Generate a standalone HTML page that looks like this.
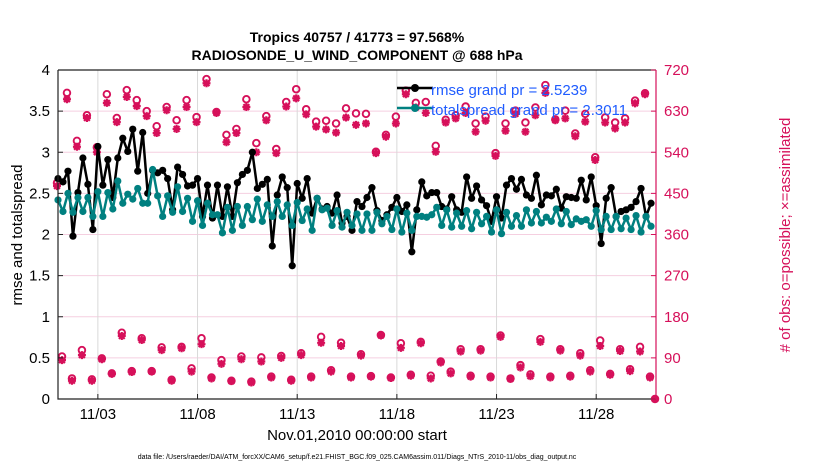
<!DOCTYPE html>
<html><head><meta charset="utf-8"><style>
body{margin:0;background:#fff;}
svg{display:block;font-family:"Liberation Sans",sans-serif;}
</style></head><body>
<svg id="chart" width="830" height="470" viewBox="0 0 830 470" xmlns="http://www.w3.org/2000/svg">
<rect width="830" height="470" fill="#fff"/>
<g id="grid"></g>
<g id="marks"></g>
<g id="axes"></g>
<text x="357" y="42" text-anchor="middle" font-size="14" font-weight="bold">Tropics 40757 / 41773 = 97.568%</text>
<text x="357" y="60" text-anchor="middle" font-size="14" font-weight="bold">RADIOSONDE_U_WIND_COMPONENT @ 688 hPa</text>
<text transform="translate(22,235) rotate(-90)" text-anchor="middle" font-size="15">rmse and totalspread</text>
<text transform="translate(790,235) rotate(-90)" text-anchor="middle" font-size="15" fill="#d6105a"># of obs: o=possible; ×=assimilated</text>
<text x="357" y="440" text-anchor="middle" font-size="15">Nov.01,2010 00:00:00 start</text>
<text x="357" y="459" text-anchor="middle" font-size="7">data file: /Users/raeder/DAI/ATM_forcXX/CAM6_setup/f.e21.FHIST_BGC.f09_025.CAM6assim.011/Diags_NTrS_2010-11/obs_diag_output.nc</text>
<g id="plot-extra"></g>
<script>
const rmse=[2.68,2.64,2.77,1.98,2.51,2.93,2.61,2.06,3.07,2.60,2.91,2.45,2.93,3.17,3.01,3.28,2.77,3.24,2.50,2.78,
2.75,2.78,2.68,2.30,2.82,2.73,2.59,2.60,2.68,2.22,2.60,2.20,2.60,2.22,2.58,2.22,2.63,2.73,2.78,3.00,
2.56,2.61,2.67,1.86,2.48,2.70,2.57,1.62,2.62,2.44,2.68,2.26,2.44,2.31,2.34,2.26,2.48,2.14,2.22,2.05,
2.40,2.34,2.45,2.57,2.29,2.17,2.24,2.33,2.45,2.28,2.36,1.79,2.30,2.64,2.47,2.51,2.51,2.34,2.31,2.46,
2.30,2.27,2.70,2.44,2.59,2.42,2.35,2.16,2.46,2.20,2.60,2.68,2.55,2.67,2.48,2.44,2.72,2.36,2.48,2.47,
2.55,2.32,2.46,2.45,2.44,2.66,2.42,2.70,2.35,1.89,2.44,2.57,2.22,2.28,2.30,2.33,2.40,2.56,2.22,2.38];
</script>
<g>
 <g>
  <line x1="397" y1="88" x2="433" y2="88" stroke="#000" stroke-width="2.5"/>
  <circle cx="415" cy="88" r="4" fill="#000"/>
  <text x="431" y="95" font-size="15" fill="#1f5cff">rmse grand pr = 2.5239</text>
 </g>
 <g>
  <line x1="397" y1="108" x2="433" y2="108" stroke="#008080" stroke-width="2.5"/>
  <circle cx="415" cy="108" r="4" fill="#008080"/>
  <text x="431" y="115" font-size="15" fill="#1f5cff">totalspread grand pr = 2.3011</text>
 </g>
</g>
</svg>
<script>
const spread=[2.42,2.28,2.50,2.27,2.45,2.28,2.45,2.22,2.52,2.22,2.51,2.31,2.65,2.38,2.49,2.43,2.56,2.38,2.38,2.79,
2.47,2.22,2.47,2.27,2.58,2.28,2.44,2.16,2.41,2.11,2.38,2.24,2.24,2.02,2.33,2.05,2.34,2.11,2.34,2.18,
2.43,2.16,2.36,2.22,2.40,2.22,2.36,2.11,2.39,2.17,2.31,2.05,2.44,2.30,2.32,2.11,2.29,2.09,2.27,2.11,
2.25,2.05,2.25,2.05,2.27,2.13,2.22,2.06,2.31,2.03,2.26,2.05,2.22,2.22,2.21,2.24,2.33,2.11,2.30,2.09,
2.26,2.10,2.29,2.07,2.27,2.13,2.22,2.03,2.30,2.01,2.27,2.10,2.23,2.10,2.30,2.14,2.28,2.14,2.21,2.16,
2.31,2.13,2.28,2.12,2.19,2.16,2.18,2.10,2.29,2.06,2.22,2.06,2.22,2.07,2.20,2.06,2.23,2.03,2.22,2.10];
const possHigh=[473,670,565,621,551,667,615,676,654,630,597,639,610,654,617,700,628,578,591,656,560,
619,547,650,678,634,607,609,603,636,625,624,541,578,618,675,648,650,554,611,
621,640,603,618,538,603,631,605,638,687,612,631,581,624,529,616,605,614,653,669];
const assimHigh=[466,656,552,615,540,648,606,661,641,619,582,632,591,639,606,691,626,562,582,639,540,
610,538,640,658,623,596,590,583,616,600,603,538,574,603,667,638,626,541,605,
614,626,585,609,532,587,624,585,621,670,610,614,575,607,523,605,592,605,647,667];
const possLow=[93,45,107,43,89,56,145,61,133,61,113,42,114,67,133,47,85,40,93,38,91,49,94,42,100,49,136,63,123,
49,98,50,140,47,122,53,125,51,82,60,109,51,109,49,139,45,74,54,131,49,109,51,100,63,128,55,109,65,114,49,0];
const assimLow=[85,40,96,40,87,55,138,59,129,60,107,40,111,60,120,45,77,39,87,36,82,47,90,40,96,47,123,60,116,
47,95,49,139,46,112,51,122,45,80,56,104,49,106,47,136,44,69,50,125,47,106,49,95,60,116,53,105,61,104,47,0];
const dateLabels=["11/03","11/08","11/13","11/18","11/23","11/28"];
const dateDays=[2,7,12,17,22,27];
const leftTicks=[0,0.5,1,1.5,2,2.5,3,3.5,4];
const rightTicks=[0,90,180,270,360,450,540,630,720];

const X0=58,X1=656,Y0=399,Y1=70;
const xDay=d=>X0+d*(X1-X0)/30;
const yL=v=>Y0-(Y0-Y1)*v/4;
const yR=v=>Y0-(Y0-Y1)*v/720;
const NS="http://www.w3.org/2000/svg";
function mk(tag,attrs,parent){const e=document.createElementNS(NS,tag);for(const k in attrs)e.setAttribute(k,attrs[k]);parent.appendChild(e);return e;}
const grid=document.getElementById('grid'),marks=document.getElementById('marks'),axes=document.getElementById('axes');

leftTicks.forEach(v=>{if(v>0&&v<4){const l=mk('line',{x1:X0,x2:X1,y1:yL(v),y2:yL(v),stroke:'#f5cfe0','stroke-width':1},grid);

}});
dateDays.forEach(d=>{const l=mk('line',{x1:xDay(d),x2:xDay(d),y1:Y1,y2:Y0,stroke:'#d9d9d9','stroke-width':1},grid);

});

function star(cx,cy,g){const p=mk('path',{d:`M${cx-4} ${cy}H${cx+4}M${cx} ${cy-4}V${cy+4}M${cx-2.9} ${cy-2.9}L${cx+2.9} ${cy+2.9}M${cx-2.9} ${cy+2.9}L${cx+2.9} ${cy-2.9}`,stroke:'#d6105a','stroke-width':2.2},g);return p;}
const pg=mk('g',{},marks);


possHigh.forEach((v,k)=>{const x=xDay(k*0.5-0.05);
const c=mk('circle',{cx:x,cy:yR(v),r:3.3,fill:'none',stroke:'#d6105a','stroke-width':1.9},pg);


const s=star(x,yR(assimHigh[k]),pg);

});
possLow.forEach((v,k)=>{const x=xDay(0.2+k*0.5-(k==possLow.length-1?0.25:0));
const c=mk('circle',{cx:x,cy:yR(v),r:3.3,fill:'none',stroke:'#d6105a','stroke-width':1.9},pg);


const s=star(x,yR(assimLow[k]),pg);

});

function series(vals,color,name){const g=mk('g',{},marks);


const xs=vals.map((v,i)=>xDay(i*0.25)),ys=vals.map(v=>yL(v));
const pl=mk('polyline',{points:xs.map((x,i)=>x+','+ys[i]).join(' '),fill:'none',stroke:color,'stroke-width':2.5,'stroke-linejoin':'round'},g);


xs.forEach((x,i)=>{const c=mk('circle',{cx:x,cy:ys[i],r:3.6,fill:color},g);

});}
series(rmse,'#000','rmse-series');
series(spread,'#008080','totalspread-series');

const frame=mk('path',{d:`M${X0} ${Y1}H${X1}M${X0} ${Y1}V${Y0}H${X1}`,stroke:'#222',fill:'none','stroke-width':1.2},axes);


const ra=mk('line',{x1:X1,x2:X1,y1:Y1,y2:Y0,stroke:'#d6105a','stroke-width':1.2},axes);


leftTicks.forEach(v=>{mk('line',{x1:X0,x2:X0+5,y1:yL(v),y2:yL(v),stroke:'#222'},axes);
const t=mk('text',{x:X0-8,y:yL(v)+5,'text-anchor':'end','font-size':15},axes);t.textContent=String(v);

});
rightTicks.forEach(v=>{mk('line',{x1:X1-5,x2:X1,y1:yR(v),y2:yR(v),stroke:'#d6105a'},axes);
const t=mk('text',{x:X1+8,y:yR(v)+5,'font-size':15,fill:'#d6105a'},axes);t.textContent=String(v);

});
dateDays.forEach((d,i)=>{mk('line',{x1:xDay(d),x2:xDay(d),y1:Y0,y2:Y0-5,stroke:'#222'},axes);
const t=mk('text',{x:xDay(d),y:Y0+20,'text-anchor':'middle','font-size':15},axes);t.textContent=dateLabels[i];

});
</script>
</body></html>
